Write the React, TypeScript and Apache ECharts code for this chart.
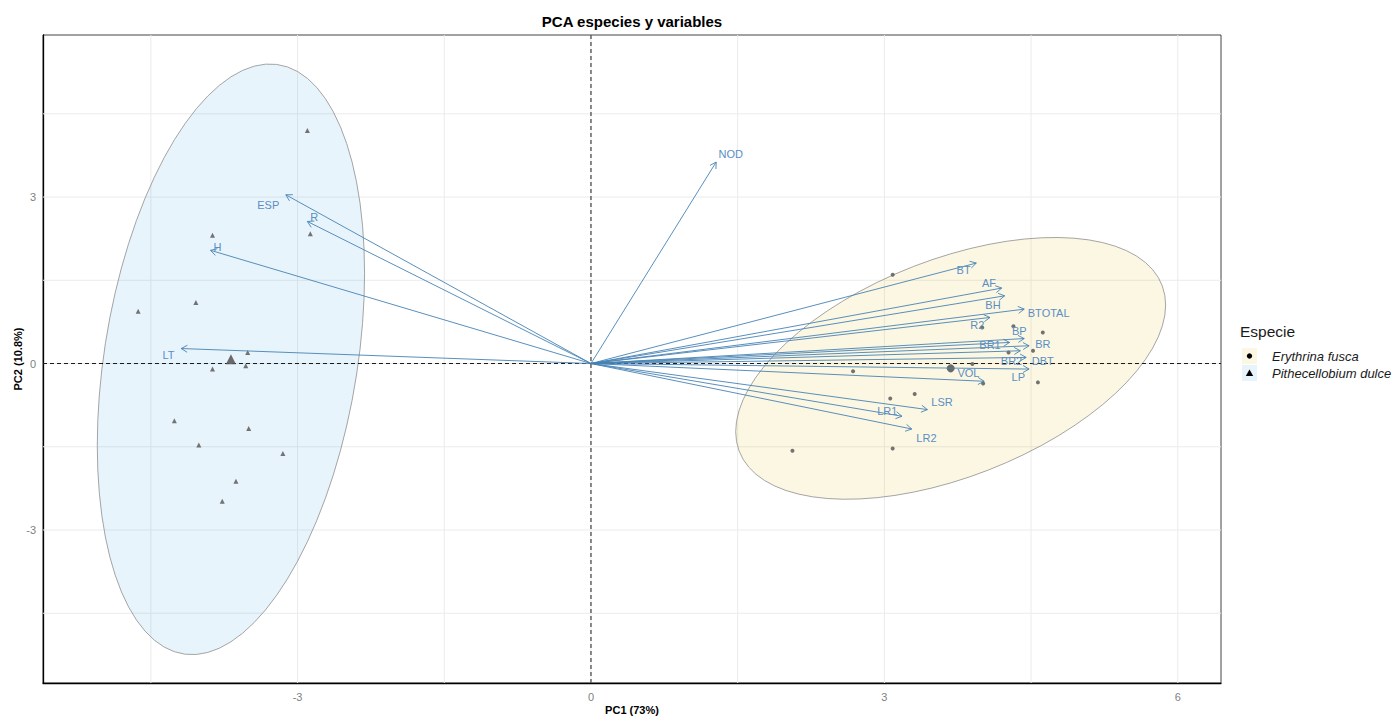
import React, { useEffect, useRef } from 'react';
import * as echarts from 'echarts';

const chartTitle = 'PCA especies y variables';
const xAxisTitle = 'PC1 (73%)';
const yAxisTitle = 'PC2 (10.8%)';
const legendTitle = 'Especie';
const xTickValues = [-3, 0, 3, 6];
const yTickValues = [-3, 0, 3];
const xGridValues = [-4.5, -3, -1.5, 0, 1.5, 3, 4.5, 6];
const yGridValues = [-4.5, -3, -1.5, 0, 1.5, 3, 4.5];

const speciesNames = ['Erythrina fusca', 'Pithecellobium dulce'];

const erythrinaPC1 = [3.085, 4.0, 4.32, 4.62, 4.27, 4.52, 3.9, 2.68, 4.01, 4.57, 3.06, 3.31, 3.085, 2.06];
const erythrinaPC2 = [1.6, 0.65, 0.67, 0.56, 0.2, 0.23, -0.01, -0.14, -0.36, -0.34, -0.63, -0.55, -1.53, -1.57];
const pithecellobiumPC1 = [-2.9, -3.87, -2.87, -4.63, -4.04, -3.51, -3.87, -3.53, -4.26, -3.5, -4.01, -3.15, -3.63, -3.77];
const pithecellobiumPC2 = [4.2, 2.31, 2.34, 0.94, 1.1, 0.2, -0.1, -0.04, -1.03, -1.17, -1.47, -1.62, -2.12, -2.48];

const variableNames = ['NOD', 'ESP', 'R', 'H', 'LT', 'BT', 'AF', 'BH', 'BTOTAL', 'R2', 'BP', 'BR', 'BR1', 'BR2', 'DBT', 'LP', 'VOL', 'LSR', 'LR1', 'LR2'];
const variablePC1 = [1.28, -3.12, -2.9, -3.89, -4.19, 3.94, 4.2, 4.23, 4.43, 4.08, 4.43, 4.48, 4.28, 4.39, 4.45, 4.48, 4.02, 3.44, 3.18, 3.28];
const variablePC2 = [3.63, 3.04, 2.56, 2.04, 0.27, 1.81, 1.36, 1.22, 0.98, 0.83, 0.45, 0.32, 0.38, 0.23, 0.11, -0.1, -0.32, -0.83, -0.95, -1.18];
const variableLabelPC1 = [1.43, -3.3, -2.83, -3.82, -4.32, 3.81, 4.07, 4.11, 4.68, 3.95, 4.38, 4.62, 4.08, 4.3, 4.62, 4.37, 3.86, 3.59, 3.03, 3.43];
const variableLabelPC2 = [3.77, 2.86, 2.64, 2.1, 0.15, 1.68, 1.45, 1.06, 0.91, 0.69, 0.59, 0.35, 0.34, 0.05, 0.05, -0.25, -0.17, -0.7, -0.85, -1.34];

const FONT = "'Liberation Sans', Arial, sans-serif";
const ARROW = '#4682B4';
const POINT = '#5a5a5a';
const FILL_E = 'rgba(231,184,0,0.11)';
const FILL_P = 'rgba(46,159,223,0.11)';

function mean(a: number[]) {
  return a.reduce((s, v) => s + v, 0) / a.length;
}

// 95% normal data ellipse (as ggplot2 stat_ellipse type = "norm")
function ellipse(xs: number[], ys: number[], level = 0.95, segments = 72) {
  const n = xs.length;
  const mx = mean(xs);
  const my = mean(ys);
  let sxx = 0, syy = 0, sxy = 0;
  for (let i = 0; i < n; i++) {
    sxx += (xs[i] - mx) ** 2;
    syy += (ys[i] - my) ** 2;
    sxy += (xs[i] - mx) * (ys[i] - my);
  }
  sxx /= n - 1; syy /= n - 1; sxy /= n - 1;
  const d2 = n - 1;
  const f = (d2 / 2) * (Math.pow(1 - level, -2 / d2) - 1);
  const r = Math.sqrt(2 * f);
  const a = Math.sqrt(sxx);
  const b = sxy / a;
  const c = Math.sqrt(syy - b * b);
  const pts: number[][] = [];
  for (let k = 0; k <= segments; k++) {
    const t = (2 * Math.PI * k) / segments;
    pts.push([mx + r * a * Math.cos(t), my + r * (b * Math.cos(t) + c * Math.sin(t))]);
  }
  return pts;
}

export default function App() {
  const ref = useRef<HTMLDivElement>(null);
  useEffect(() => {
    if (!ref.current) return;
    const chart = echarts.init(ref.current, undefined, { renderer: 'svg' });

    const ePts = erythrinaPC1.map((x, i) => [x, erythrinaPC2[i]]);
    const pPts = pithecellobiumPC1.map((x, i) => [x, pithecellobiumPC2[i]]);
    const eCenter = [mean(erythrinaPC1), mean(erythrinaPC2)];
    const pCenter = [mean(pithecellobiumPC1), mean(pithecellobiumPC2)];
    const eEll = ellipse(erythrinaPC1, erythrinaPC2);
    const pEll = ellipse(pithecellobiumPC1, pithecellobiumPC2);

    const gridLineSeries = (vals: number[], vertical: boolean, stroke: string, dash?: number[], z = 1) => ({
      type: 'custom',
      coordinateSystem: 'cartesian2d',
      silent: true,
      z,
      data: vals.map((v) => (vertical ? [v, 0] : [0, v])),
      renderItem: (params: any, api: any) => {
        const cs = params.coordSys;
        const p = api.coord([api.value(0), api.value(1)]);
        const shape = vertical
          ? { x1: p[0], y1: cs.y, x2: p[0], y2: cs.y + cs.height }
          : { x1: cs.x, y1: p[1], x2: cs.x + cs.width, y2: p[1] };
        return { type: 'line', shape, style: { stroke, lineWidth: dash ? 0.9 : 1, lineDash: dash } };
      },
    });

    const ellipseSeries = (pts: number[][], fill: string) => ({
      type: 'custom',
      coordinateSystem: 'cartesian2d',
      silent: true,
      z: 2,
      data: [[0, 0]],
      renderItem: (_params: any, api: any) => ({
        type: 'polygon',
        shape: { points: pts.map((p) => api.coord(p)) },
        style: { fill, stroke: '#8e8e8e', lineWidth: 0.8 },
      }),
    });

    const option: any = {
      animation: false,
      backgroundColor: '#ffffff',
      grid: { left: 43, right: 177, top: 35, bottom: 34, containLabel: false },
      xAxis: {
        type: 'value',
        min: -5.603,
        max: 6.442,
        axisLine: { show: true, onZero: false, lineStyle: { color: '#000', width: 1.3 } },
        axisTick: { show: false },
        splitLine: { show: false },
        axisLabel: { customValues: xTickValues, color: '#7f7f7f', fontSize: 11, fontFamily: FONT, margin: 8 },
      },
      yAxis: {
        type: 'value',
        min: -5.757,
        max: 5.92,
        axisLine: { show: true, onZero: false, lineStyle: { color: '#000', width: 1.3 } },
        axisTick: { show: false },
        splitLine: { show: false },
        axisLabel: { customValues: yTickValues, color: '#7f7f7f', fontSize: 11, fontFamily: FONT, margin: 7 },
      },
      graphic: [
        { type: 'rect', silent: true, z: 0, shape: { x: 43, y: 35, width: 1178, height: 648 }, style: { fill: 'none', stroke: '#444', lineWidth: 1 } },
        { type: 'text', x: 632, y: 21, style: { text: chartTitle, font: `bold 15px ${FONT}`, fill: '#000', align: 'center', verticalAlign: 'middle' } },
        { type: 'text', x: 632, y: 710, style: { text: xAxisTitle, font: `bold 11px ${FONT}`, fill: '#000', align: 'center', verticalAlign: 'middle' } },
        { type: 'text', x: 18, y: 359, rotation: Math.PI / 2, style: { text: yAxisTitle, font: `bold 11px ${FONT}`, fill: '#000', align: 'center', verticalAlign: 'middle' } },
        { type: 'text', x: 1240, y: 331, style: { text: legendTitle, font: `15.5px ${FONT}`, fill: '#1a1a1a', align: 'left', verticalAlign: 'middle' } },
        { type: 'rect', shape: { x: 1242, y: 348, width: 15, height: 16 }, style: { fill: FILL_E } },
        { type: 'circle', shape: { cx: 1249.5, cy: 356, r: 2.7 }, style: { fill: '#000' } },
        { type: 'rect', shape: { x: 1242, y: 365, width: 15, height: 16 }, style: { fill: FILL_P } },
        { type: 'polygon', shape: { points: [[1249.5, 369.5], [1253.2, 376], [1245.8, 376]] }, style: { fill: '#000' } },
        { type: 'text', x: 1272, y: 356, style: { text: speciesNames[0], font: `italic 13px ${FONT}`, fill: '#1a1a1a', align: 'left', verticalAlign: 'middle' } },
        { type: 'text', x: 1272, y: 373, style: { text: speciesNames[1], font: `italic 13px ${FONT}`, fill: '#1a1a1a', align: 'left', verticalAlign: 'middle' } },
      ],
      series: [
        gridLineSeries(xGridValues, true, '#ebebeb'),
        gridLineSeries(yGridValues, false, '#ebebeb'),
        ellipseSeries(eEll, FILL_E),
        ellipseSeries(pEll, FILL_P),
        gridLineSeries([0], true, '#000', [4, 3], 3),
        gridLineSeries([0], false, '#000', [4, 3], 3),
        {
          name: speciesNames[0],
          type: 'scatter',
          symbol: 'circle',
          symbolSize: 4,
          z: 4,
          itemStyle: { color: POINT, opacity: 0.85 },
          data: ePts,
        },
        {
          name: speciesNames[1],
          type: 'scatter',
          symbol: 'triangle',
          symbolSize: 5,
          z: 4,
          itemStyle: { color: POINT, opacity: 0.85 },
          data: pPts,
        },
        {
          type: 'scatter',
          symbol: 'circle',
          symbolSize: 8,
          z: 4,
          itemStyle: { color: POINT, opacity: 0.9 },
          data: [eCenter],
        },
        {
          type: 'scatter',
          symbol: 'triangle',
          symbolSize: 10,
          z: 4,
          itemStyle: { color: POINT, opacity: 0.9 },
          data: [pCenter],
        },
        {
          type: 'custom',
          coordinateSystem: 'cartesian2d',
          silent: true,
          z: 5,
          data: variablePC1.map((x, i) => [x, variablePC2[i]]),
          renderItem: (_params: any, api: any) => {
            const o = api.coord([0, 0]);
            const e = api.coord([api.value(0), api.value(1)]);
            const ang = Math.atan2(e[1] - o[1], e[0] - o[0]);
            const L = 7;
            const a = Math.PI / 6;
            const h1 = [e[0] - L * Math.cos(ang - a), e[1] - L * Math.sin(ang - a)];
            const h2 = [e[0] - L * Math.cos(ang + a), e[1] - L * Math.sin(ang + a)];
            return {
              type: 'group',
              children: [
                { type: 'line', shape: { x1: o[0], y1: o[1], x2: e[0], y2: e[1] }, style: { stroke: ARROW, lineWidth: 0.9 } },
                { type: 'polyline', shape: { points: [h1, e, h2] }, style: { stroke: ARROW, lineWidth: 0.9, fill: 'none' } },
              ],
            };
          },
        },
        {
          type: 'custom',
          coordinateSystem: 'cartesian2d',
          silent: true,
          z: 6,
          data: variableLabelPC1.map((x, i) => [x, variableLabelPC2[i]]),
          renderItem: (params: any, api: any) => {
            const p = api.coord([api.value(0), api.value(1)]);
            return {
              type: 'text',
              x: p[0],
              y: p[1],
              style: {
                text: variableNames[params.dataIndex],
                font: `11px ${FONT}`,
                fill: '#5b8ec4',
                align: 'center',
                verticalAlign: 'middle',
              },
            };
          },
        },
      ],
    };
    chart.setOption(option);
    return () => chart.dispose();
  }, []);
  return <div ref={ref} style={{ position: 'fixed', left: 0, top: 0, width: 1398, height: 717, background: '#fff' }} />;
}
